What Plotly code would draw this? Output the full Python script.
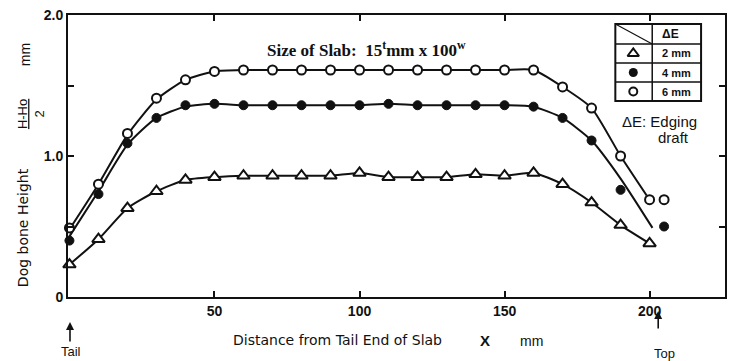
import plotly.graph_objects as go

# ---------------- data ----------------
x_pos = [0, 10, 20, 30, 40, 50, 60, 70, 80, 90, 100, 110, 120, 130, 140, 150, 160, 170, 180, 190, 200]

# dE = 2 mm (open triangles)
tri_y = [0.23, 0.41, 0.63, 0.75, 0.83, 0.85, 0.86, 0.86, 0.86, 0.86, 0.88, 0.85, 0.85, 0.85, 0.87, 0.86, 0.88, 0.80, 0.67, 0.51, 0.38]

# dE = 4 mm (filled circles)
fill_x = [0, 10, 20, 30, 40, 50, 60, 70, 80, 90, 100, 110, 120, 130, 140, 150, 160, 170, 180, 190, 205]
fill_y = [0.40, 0.73, 1.09, 1.27, 1.36, 1.37, 1.36, 1.36, 1.36, 1.36, 1.36, 1.37, 1.36, 1.36, 1.36, 1.36, 1.35, 1.27, 1.11, 0.76, 0.50]

# dE = 6 mm (open circles)
open_x = [0, 10, 20, 30, 40, 50, 60, 70, 80, 90, 100, 110, 120, 130, 140, 150, 160, 170, 180, 190, 200, 205]
open_y = [0.49, 0.80, 1.16, 1.41, 1.54, 1.60, 1.61, 1.61, 1.61, 1.61, 1.61, 1.61, 1.61, 1.61, 1.61, 1.61, 1.61, 1.49, 1.34, 1.00, 0.69, 0.69]

# fitted curves drawn through the data
fit4_x = [0, 10, 20, 30, 40, 50, 60, 70, 80, 90, 100, 110, 120, 130, 140, 150, 160, 170, 180, 190, 201]
fit4_y = [0.43, 0.75, 1.08, 1.27, 1.35, 1.37, 1.36, 1.36, 1.36, 1.36, 1.36, 1.37, 1.36, 1.36, 1.36, 1.36, 1.35, 1.27, 1.11, 0.84, 0.49]
fit6_x = [0, 10, 20, 30, 40, 50, 60, 70, 80, 90, 100, 110, 120, 130, 140, 150, 160, 170, 180, 190, 199]
fit6_y = [0.48, 0.80, 1.15, 1.40, 1.54, 1.60, 1.61, 1.61, 1.61, 1.61, 1.61, 1.61, 1.61, 1.61, 1.61, 1.61, 1.61, 1.49, 1.34, 1.00, 0.72]

x_ticks = [50, 100, 150, 200]
y_ticks = [0, 0.5, 1.0, 1.5, 2.0]
y_tick_text = ["0", "", "1.0", "", "2.0"]
legend_labels = ["2 mm", "4 mm", "6 mm"]

# ---------------- layout geometry ----------------
W, H = 731, 361
L, R, T, B = 68, 4, 15, 64
PW, PH = W - L - R, H - T - B
XR = [-0.5, 226.0]
YR = [0, 2.0]

def xp(px):
    return (px - L) / PW

def yp(py):
    return (H - B - py) / PH

def xd(px):
    return XR[0] + (px - L) / PW * (XR[1] - XR[0])

def yd(py):
    return YR[0] + (H - B - py) / PH * (YR[1] - YR[0])

SANS = "Liberation Sans, Arial, sans-serif"
WIDE = "DejaVu Sans, Verdana, sans-serif"
SERIF = "Liberation Serif, Times New Roman, serif"
BLACK = "#111111"

fig = go.Figure()

# curves
for cx, cy in [(x_pos, tri_y), (fit4_x, fit4_y), (fit6_x, fit6_y)]:
    fig.add_trace(go.Scatter(x=cx, y=cy, mode="lines", hoverinfo="skip",
                             line=dict(color=BLACK, width=2, shape="spline", smoothing=0.6)))

# markers
fig.add_trace(go.Scatter(x=x_pos, y=tri_y, mode="markers", cliponaxis=False,
                         marker=dict(symbol="triangle-up", size=11, color="white", line=dict(color=BLACK, width=2))))
fig.add_trace(go.Scatter(x=fill_x, y=fill_y, mode="markers", cliponaxis=False,
                         marker=dict(symbol="circle", size=9, color=BLACK, line=dict(color=BLACK, width=1))))
fig.add_trace(go.Scatter(x=open_x, y=open_y, mode="markers", cliponaxis=False,
                         marker=dict(symbol="circle", size=9, color="white", line=dict(color=BLACK, width=2))))

# ---------------- legend table ----------------
tx0, tx1, tcol = 617, 703, 654
rows = [24, 44, 63, 82, 101]
shapes = []
shapes.append(dict(type="rect", xref="paper", yref="paper", x0=xp(tx0), x1=xp(tx1), y0=yp(rows[-1]), y1=yp(rows[0]),
                   line=dict(color=BLACK, width=2), fillcolor="white", layer="below"))
shapes.append(dict(type="line", xref="paper", yref="paper", x0=xp(tcol), x1=xp(tcol), y0=yp(rows[-1]), y1=yp(rows[0]),
                   line=dict(color=BLACK, width=1.5)))
for r in rows[1:-1]:
    shapes.append(dict(type="line", xref="paper", yref="paper", x0=xp(tx0), x1=xp(tx1), y0=yp(r), y1=yp(r),
                       line=dict(color=BLACK, width=1.5)))
shapes.append(dict(type="line", xref="paper", yref="paper", x0=xp(tx0), x1=xp(tcol), y0=yp(rows[0]), y1=yp(rows[1]),
                   line=dict(color=BLACK, width=1.2)))

sym_x = xd(635)
sym_y = [yd((rows[i + 1] + rows[i + 2]) / 2) for i in range(3)]
fig.add_trace(go.Scatter(x=[sym_x], y=[sym_y[0]], mode="markers", cliponaxis=False,
                         marker=dict(symbol="triangle-up", size=10, color="white", line=dict(color=BLACK, width=2))))
fig.add_trace(go.Scatter(x=[sym_x], y=[sym_y[1]], mode="markers", cliponaxis=False,
                         marker=dict(symbol="circle", size=9, color=BLACK)))
fig.add_trace(go.Scatter(x=[sym_x], y=[sym_y[2]], mode="markers", cliponaxis=False,
                         marker=dict(symbol="circle", size=8, color="white", line=dict(color=BLACK, width=2))))

ann = []
def add_text(text, px, py, size=12, font=SANS, angle=0, xanchor="center", yanchor="middle", weight="normal"):
    ann.append(dict(text=text, xref="paper", yref="paper", x=xp(px), y=yp(py), showarrow=False,
                    xanchor=xanchor, yanchor=yanchor, textangle=angle,
                    font=dict(family=font, size=size, color=BLACK, weight=weight)))

tcx = (tcol + tx1) / 2
add_text("ΔE", tcx - 6, (rows[0] + rows[1]) / 2, size=12, weight="bold")
for i, lab in enumerate(legend_labels):
    add_text(lab, tcx, (rows[i + 1] + rows[i + 2]) / 2, size=11, weight="bold")
add_text("ΔE: Edging", 661, 121, size=15)
add_text("draft", 675, 137, size=15)

# title
add_text("<b>Size of Slab:  15<sup>t</sup>mm x 100<sup>w</sup></b>", 367, 49, size=17, font=SERIF)

# y title parts
add_text("Dog bone Height", 23, 228, size=14, font=WIDE, angle=-90)
add_text("<u>H-Ho</u><br>2", 31, 114, size=13, angle=-90)
add_text("mm", 25, 55, size=14, angle=-90)

# x title parts
add_text("Distance from Tail End of Slab", 338, 340, size=14, font=WIDE)
add_text("<b>X</b>", 486, 340, size=15)
add_text("mm", 533, 341, size=14)
add_text("Tail", 71, 361, size=13, yanchor="bottom")
add_text("Top", 666, 353, size=13)

# arrows
ann.append(dict(text="", xref="paper", yref="paper", x=xp(70), y=yp(322), ax=0, ay=21, showarrow=True,
                arrowhead=2, arrowsize=1, arrowwidth=1.6, arrowcolor=BLACK))
ann.append(dict(text="", xref="paper", yref="paper", x=xp(660), y=yp(311), ax=0, ay=19, showarrow=True,
                arrowhead=2, arrowsize=1, arrowwidth=1.6, arrowcolor=BLACK))

fig.update_layout(
    width=W, height=H,
    margin=dict(l=L, r=R, t=T, b=B),
    paper_bgcolor="white", plot_bgcolor="white",
    showlegend=False,
    shapes=shapes,
    annotations=ann,
    xaxis=dict(range=XR, tickvals=x_ticks, ticks="inside", ticklen=6, tickwidth=1.5, tickcolor=BLACK,
               showline=True, linewidth=2, linecolor=BLACK, mirror="ticks", showgrid=False, zeroline=False,
               tickfont=dict(family=SANS, size=14, color=BLACK, weight="bold")),
    yaxis=dict(range=YR, tickvals=y_ticks, ticktext=y_tick_text, ticks="inside", ticklen=6, tickwidth=1.5, tickcolor=BLACK,
               showline=True, linewidth=2, linecolor=BLACK, mirror="ticks", showgrid=False, zeroline=False,
               tickfont=dict(family=SANS, size=14, color=BLACK, weight="bold")),
)

fig.write_html("out.html")
